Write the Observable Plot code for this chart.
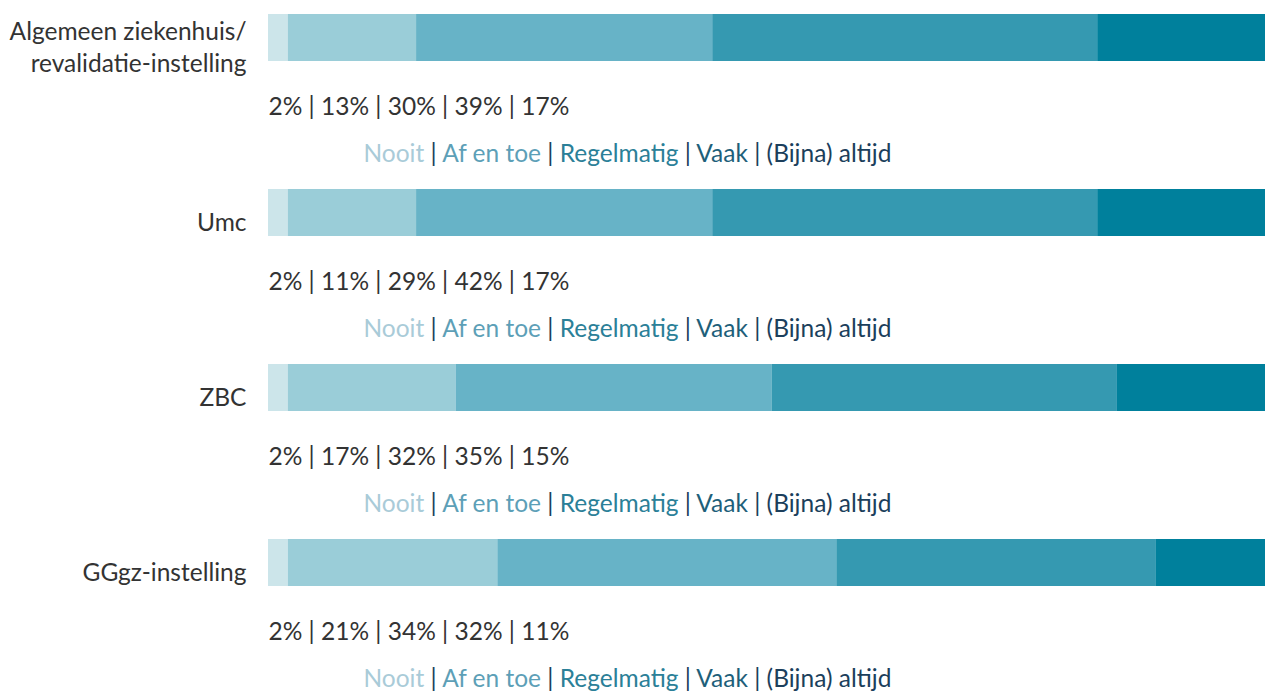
<!DOCTYPE html>
<html>
<head>
<meta charset="utf-8">
<script src="https://cdn.jsdelivr.net/npm/d3@7"></script>
<script src="https://cdn.jsdelivr.net/npm/@observablehq/plot@0.6"></script>
<style>
  html, body { margin: 0; padding: 0; background: #fff; }
  #chart svg { display: block; }
</style>
</head>
<body>
<div id="chart"></div>
<script>
// Categories (rows) and their axis labels
const categories = ["Algemeen ziekenhuis/revalidatie-instelling", "Umc", "ZBC", "GGgz-instelling"];
const categoryLabels = ["Algemeen ziekenhuis/\nrevalidatie-instelling", "Umc", "ZBC", "GGgz-instelling"];

// Response categories (stack order)
const responses = ["Nooit", "Af en toe", "Regelmatig", "Vaak", "(Bijna) altijd"];

// Bar segment values as drawn (percent)
const barAlgemeen = [2, 13, 30, 39, 17];
const barUmc = [2, 13, 30, 39, 17];
const barZBC = [2, 17, 32, 35, 15];
const barGGgz = [2, 21, 34, 32, 11];

// Percentages printed under each bar
const pctAlgemeen = [2, 13, 30, 39, 17];
const pctUmc = [2, 11, 29, 42, 17];
const pctZBC = [2, 17, 32, 35, 15];
const pctGGgz = [2, 21, 34, 32, 11];

// Palettes
const barColors = ["#cce5ea", "#9acdd8", "#67b3c7", "#3599b1", "#00809c"];
const legendColors = ["#a9cbd8", "#5d9fb7", "#2b8098", "#1e5f7a", "#1c3f5c"];
const separatorColor = "#1c3f5c";
const textColor = "#333333";

const barSets = [barAlgemeen, barUmc, barZBC, barGGgz];
const pctSets = [pctAlgemeen, pctUmc, pctZBC, pctGGgz];

const data = [];
categories.forEach((cat, i) => {
  responses.forEach((resp, j) => {
    data.push({cat, resp, value: barSets[i][j]});
  });
});

const pctRows = categories.map((cat, i) => ({cat, text: pctSets[i].map(v => v + "%").join(" | ")}));
const labelRows = categories.map((cat, i) => ({cat, text: categoryLabels[i]}));
const legendRows = categories.map(cat => ({cat, text: responses.join(" | ")}));

const font = "Lato, 'Noto Sans', sans-serif";
const fs = 24.5;

const chart = Plot.plot({
  width: 1271,
  height: 691,
  marginLeft: 268,
  marginRight: 6,
  marginTop: 14,
  marginBottom: 104,
  style: {fontFamily: font, background: "#fff", overflow: "visible"},
  x: {axis: null, domain: [0, 1]},
  y: {axis: null, domain: categories, paddingInner: 0.732, paddingOuter: 0, align: 0},
  color: {domain: responses, range: barColors},
  marks: [
    Plot.barX(data, Plot.stackX({
      x: "value", y: "cat", fill: "resp", offset: "normalize", order: null, inset: 0
    })),
    Plot.text(labelRows, {
      y: "cat", text: "text", frameAnchor: "left", textAnchor: "end",
      dx: -22, dy: 8, fontSize: fs, lineHeight: 1.3, fill: textColor
    }),
    Plot.text(pctRows, {
      y: "cat", text: "text", frameAnchor: "left", textAnchor: "start",
      dy: 69, fontSize: fs, fill: textColor
    }),
    Plot.text(legendRows, {
      y: "cat", text: "text", frameAnchor: "left", textAnchor: "start",
      dx: 95, dy: 116, fontSize: fs,
      render(index, scales, values, dimensions, context, next) {
        const g = next(index, scales, values, dimensions, context);
        d3.select(g).selectAll("text").each(function() {
          const t = d3.select(this);
          t.text(null);
          responses.forEach((lab, i) => {
            if (i > 0) t.append("tspan").attr("fill", separatorColor).text(" | ");
            t.append("tspan").attr("fill", legendColors[i]).text(lab);
          });
        });
        return g;
      }
    })
  ]
});

document.getElementById("chart").appendChild(chart);
</script>
</body>
</html>
